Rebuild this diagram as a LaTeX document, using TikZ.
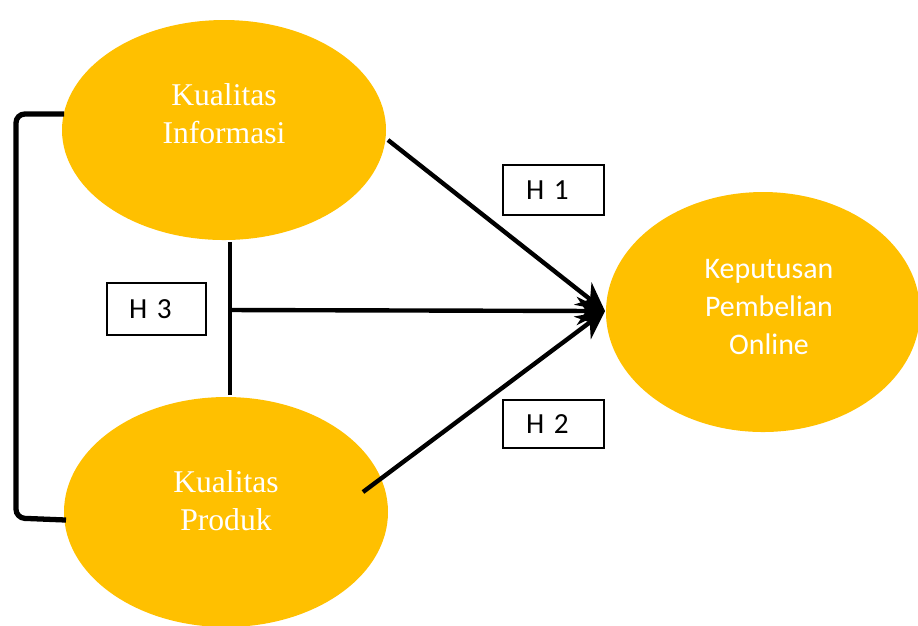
\documentclass[tikz,border=0pt]{standalone}
\usepackage{fontspec}
\setmainfont{Liberation Serif}
\newfontfamily\calfont{Carlito}
\usepackage{xcolor}
\usetikzlibrary{shapes.geometric}
\usetikzlibrary{arrows.meta}
\usetikzlibrary{positioning}
\definecolor{gold}{HTML}{FFC000}
\tikzset{
    varnode/.style = {ellipse, fill=gold, inner sep=0pt},
    vartext/.style = {text=white, align=center},
    hbox/.style = {rectangle, draw=black, line width=0.35pt, font=\calfont\fontsize{8.3}{10}\selectfont,
        inner xsep=0.22cm, inner ysep=0pt, text width=0.55cm, align=left},
}

\begin{document}
\begin{tikzpicture}[
	font=\fontsize{9}{10.8}\selectfont
]
\tikzset{
    edgea/.style = {-{Stealth[length=8pt,width=8pt]}, line width=1.25pt},
    edgel/.style = {-, line width=0.9pt},
    bracket/.style = {-, line width=1.5pt, rounded corners=2.5pt},
}
\useasboundingbox (0,0) rectangle (9.18,-6.25);
\node[varnode, minimum width=3.24cm, minimum height=2.2cm,
    label={[vartext, yshift=0.16cm]center:Kualitas\\Informasi}] at (2.24,-1.30) (ki) {};
\node[varnode, minimum width=3.24cm, minimum height=2.3cm,
    label={[vartext, yshift=0.11cm]center:Kualitas\\Produk}] at (2.26,-5.12) (kp) {};
\node[varnode, minimum width=3.14cm, minimum height=2.4cm,
    label={[vartext, xshift=0.06cm, yshift=0.05cm, font=\calfont\fontsize{8.5}{10.8}\selectfont]center:Keputusan\\Pembelian\\Online}] at (7.63,-3.12) (kpo) {};
%
\node[hbox, minimum width=1.01cm, minimum height=0.50cm] at (5.535,-1.90) (h1) {H 1};
\node[hbox, minimum width=0.97cm, minimum height=0.52cm] at (1.565,-3.09) (h3) {H 3};
\node[hbox, minimum width=1.01cm, minimum height=0.48cm] at (5.535,-4.24) (h2) {H 2};
%
\coordinate (tip) at (6.05,-3.11);
\coordinate (s1) at (3.88,-1.40);
\coordinate (s2) at (3.63,-4.92);
\coordinate (jt) at (2.30,-2.42);
\coordinate (jm) at (2.30,-3.10);
\coordinate (jb) at (2.30,-3.95);
\coordinate (bt) at (0.64,-1.14);
\coordinate (bb) at (0.66,-5.20);
%
\draw[edgea] (s1) -- (tip);
\draw[edgea] (s2) -- (tip);
\draw[edgea] (jm) -- (tip);
\draw[edgel] (jt) -- (jb);
\draw[bracket] (bt) -| (0.16,-5.18) -- (bb);
\end{tikzpicture}
\end{document}
